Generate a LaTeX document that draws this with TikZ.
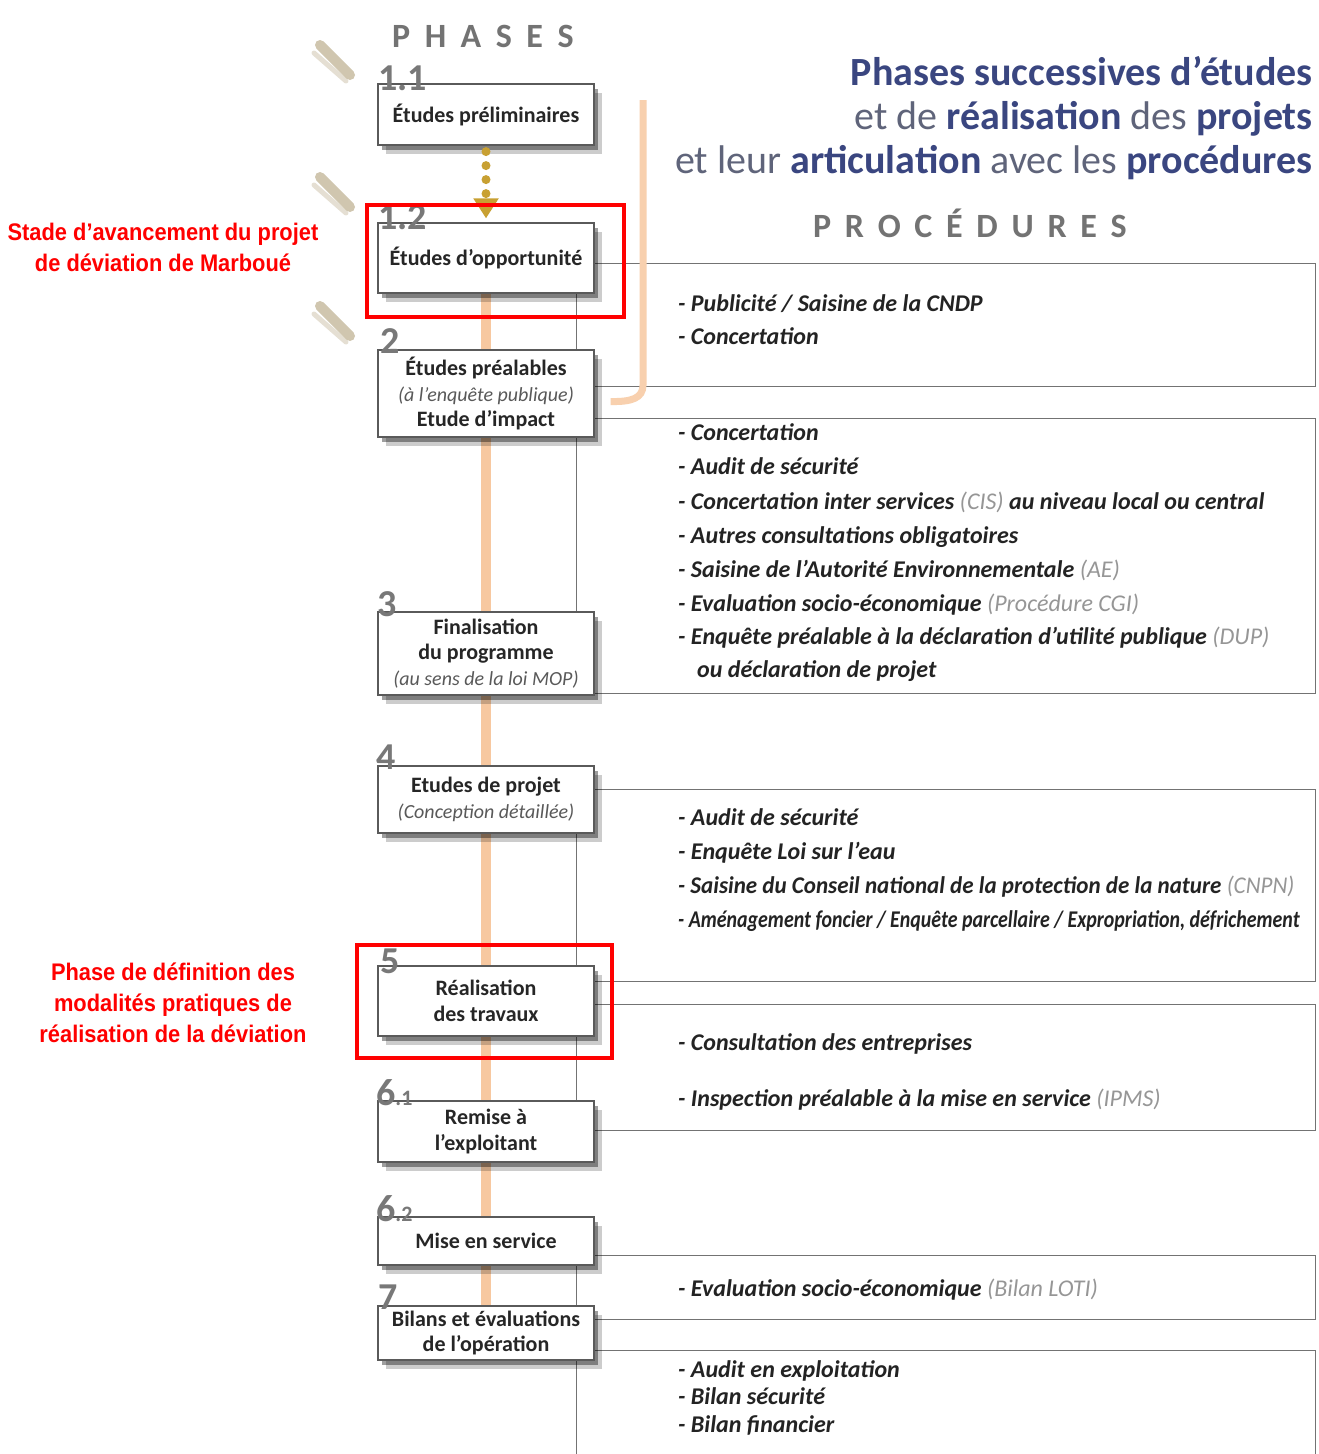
\documentclass[tikz,border=0pt]{standalone}
\usepackage{fontspec}
\setmainfont{Carlito}
\newfontfamily\redfont{Liberation Sans}
\usetikzlibrary{shadows,arrows.meta,calc}
\pgfdeclarelayer{bottom}
\pgfdeclarelayer{background}
\pgfsetlayers{bottom,background,main}

\definecolor{navy}{RGB}{58,70,128}
\definecolor{greyblue}{RGB}{95,100,122}
\definecolor{peach}{RGB}{247,200,160}
\definecolor{gold}{RGB}{200,160,50}
\definecolor{boxline}{RGB}{90,90,90}
\definecolor{numgrey}{RGB}{120,120,120}
\definecolor{proctext}{RGB}{35,35,35}
\definecolor{abbrevc}{RGB}{150,150,150}
\definecolor{brush}{RGB}{170,152,110}

\newcommand{\abrv}[1]{{\mdseries\color{abbrevc}#1}}
\newcommand{\sub}[1]{{\mdseries\itshape\fontsize{20}{25.5}\selectfont\color{black!65}#1}}

\tikzset{
  phase/.style={draw=boxline, line width=1.2pt, fill=white, minimum width=216pt,
    align=center, inner sep=1pt, text=black!85,
    font=\fontsize{22}{25.5}\selectfont\bfseries,
    drop shadow={shadow xshift=8pt, shadow yshift=-9pt, opacity=.2, fill=black},
    drop shadow={shadow xshift=4pt, shadow yshift=-5pt, opacity=.38, fill=black}},
  num/.style={font=\fontsize{38}{38}\selectfont\bfseries, text=numgrey,
    anchor=base west, inner sep=0pt},
  proc/.style={draw=black!55, line width=1pt},
  ptxt/.style={anchor=base west, inner sep=0pt, text=proctext,
    font=\fontsize{24}{27}\selectfont\bfseries\itshape},
  redbox/.style={draw=red, line width=3.5pt},
  redtxt/.style={text=red, align=center, inner sep=0pt,
    font=\redfont\fontsize{24}{31}\selectfont\bfseries},
  flow/.style={peach, line width=10pt},
  titl/.style={anchor=base east, inner sep=0pt, text=greyblue,
    font=\fontsize{40}{44}\selectfont},
  spaced/.style={inner sep=0pt, anchor=base west, text=black!55,
    font=\fontsize{34}{34}\selectfont\bfseries},
}

\begin{document}
\begin{tikzpicture}[x=1pt,y=-1pt]
\useasboundingbox (0,0) rectangle (1319,1454);
\begin{pgfonlayer}{bottom}
\fill[white] (0,0) rectangle (1319,1454);
% decorative brush strokes
\foreach \yy in {45,177,306}{
  \draw[brush, opacity=.55, line width=10pt, line cap=round] (320,\yy) -- (350,\yy+30);
  \draw[brush!60, opacity=.5, line width=5pt, line cap=round] (314,\yy+8) -- (346,\yy+36);
}
\end{pgfonlayer}

% headings
\node[spaced] (hph) at (392,47) {P\hspace{14.5pt}H\hspace{14.5pt}A\hspace{14.5pt}S\hspace{14.5pt}E\hspace{14.5pt}S};
\node[spaced] (hpr) at (813,237) {P\hspace{13.7pt}R\hspace{13.7pt}O\hspace{13.7pt}C\hspace{13.7pt}É\hspace{13.7pt}D\hspace{13.7pt}U\hspace{13.7pt}R\hspace{13.7pt}E\hspace{13.7pt}S};

\node[titl] (t1) at (1313,85) {\color{navy}\bfseries Phases successives d’études};
\node[titl] (t2) at (1313,129) {et de {\color{navy}\bfseries réalisation} des {\color{navy}\bfseries projets}};
\node[titl] (t3) at (1313,173) {et leur {\color{navy}\bfseries articulation} avec les {\color{navy}\bfseries procédures}};

% phase boxes
\node[phase, minimum height=61pt] (b11) at (486,114.5) {Études préliminaires};
\node[phase, minimum height=70pt] (b12) at (486,258) {Études d’opportunité};
\node[phase, minimum height=87pt] (b2) at (486,393.5) {Études préalables\\\sub{(à l’enquête publique)}\\Etude d’impact};
\node[phase, minimum height=83pt] (b3) at (486,653.5) {Finalisation\\du programme\\\sub{(au sens de la loi MOP)}};
\node[phase, minimum height=67pt] (b4) at (486,799.5) {Etudes de projet\\\sub{(Conception détaillée)}};
\node[phase, minimum height=70pt] (b5) at (486,1001) {Réalisation\\des travaux};
\node[phase, minimum height=61pt] (b61) at (486,1131.5) {Remise à\\l’exploitant};
\node[phase, minimum height=48pt] (b62) at (486,1241) {Mise en service};
\node[phase, minimum height=54pt] (b7) at (486,1333) {Bilans et évaluations\\de l’opération};

% phase numbers
\node[num] (n11) at (378,90) {1.1};
\node[num] (n12) at (378,229) {1.2};
\node[num] (n2) at (380,353) {2};
\node[num] (n3) at (377,616) {3};
\node[num] (n4) at (376,769) {4};
\node[num] (n5) at (380,973) {5};
\node[num] (n61) at (376,1105) {6\fontsize{22}{22}\selectfont.1};
\node[num] (n62) at (376,1221) {6\fontsize{22}{22}\selectfont.2};
\node[num] (n7) at (378,1309) {7};

% procedure panels and flow lines
\coordinate (o1) at (643,100);
\begin{pgfonlayer}{background}
\draw[proc] (576,263) rectangle (1315,386);
\draw[proc] (576,418) rectangle (1315,693);
\draw[proc] (576,789) rectangle (1315,981);
\draw[proc] (576,1004) rectangle (1315,1130);
\draw[proc] (576,1255) rectangle (1315,1319);
\draw[proc] (576,1454) -- (576,1350) -- (1315,1350) -- (1315,1454);
\draw[flow] (b12.south) -- (b7.north);
\draw[peach!85, line width=7pt] (o1) -- (643,385) .. controls (643,398) and (632,402) .. ($(b2.east)+(16,8)$);
\end{pgfonlayer}

% dotted arrow 1.1 -> 1.2
\draw[gold, line width=9pt, line cap=round, dash pattern=on 0pt off 14pt,
  -{Triangle[width=24pt,length=20pt]}] ([yshift=-6pt]b11.south) -- ([yshift=4pt]b12.north);

% procedure texts
\node[ptxt] (a1) at (678,311) {- Publicité / Saisine de la CNDP};
\node[ptxt] (a2) at (678,344) {- Concertation};

\node[ptxt] (c1) at (678,440) {- Concertation};
\node[ptxt] (c2) at (678,474) {- Audit de sécurité};
\node[ptxt] (c3) at (678,509) {- Concertation inter services \abrv{(CIS)} au niveau local ou central};
\node[ptxt] (c4) at (678,543) {- Autres consultations obligatoires};
\node[ptxt] (c5) at (678,577) {- Saisine de l’Autorité Environnementale \abrv{(AE)}};
\node[ptxt] (c6) at (678,611) {- Evaluation socio-économique \abrv{(Procédure CGI)}};
\node[ptxt] (c7) at (678,644) {- Enquête préalable à la déclaration d’utilité publique \abrv{(DUP)}};
\node[ptxt] (c8) at (697,677) {ou déclaration de projet};

\node[ptxt] (d1) at (678,825) {- Audit de sécurité};
\node[ptxt] (d2) at (678,859) {- Enquête Loi sur l’eau};
\node[ptxt] (d3) at (678,893) {\scalebox{0.96}[1]{- Saisine du Conseil national de la protection de la nature \abrv{(CNPN)}}};
\node[ptxt] (d4) at (678,927) {\scalebox{0.83}[1]{- Aménagement foncier / Enquête parcellaire / Expropriation, défrichement}};

\node[ptxt] (e1) at (678,1050) {- Consultation des entreprises};
\node[ptxt] (e2) at (678,1106) {- Inspection préalable à la mise en service \abrv{(IPMS)}};

\node[ptxt] (f1) at (678,1296) {- Evaluation socio-économique \abrv{(Bilan LOTI)}};

\node[ptxt] (g1) at (678,1377) {- Audit en exploitation};
\node[ptxt] (g2) at (678,1404) {- Bilan sécurité};
\node[ptxt] (g3) at (678,1432) {- Bilan financier};

% red annotations
\draw[redbox] (367,205) rectangle (624,317);
\draw[redbox] (357,945) rectangle (612,1058);
\node[redtxt] (r1) at (163,247) {\scalebox{0.91}[1]{Stade d’avancement du projet}\\\scalebox{0.91}[1]{de déviation de Marboué}};
\node[redtxt] (r2) at (173,1003) {\scalebox{0.91}[1]{Phase de définition des}\\\scalebox{0.91}[1]{modalités pratiques de}\\\scalebox{0.91}[1]{réalisation de la déviation}};
\end{tikzpicture}
\end{document}
